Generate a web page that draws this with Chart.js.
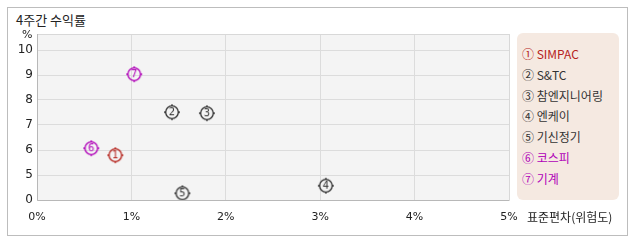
<!DOCTYPE html>
<html>
<head>
<meta charset="utf-8">
<script src="https://cdn.jsdelivr.net/npm/chart.js@4"></script>
<style>
  html, body { margin: 0; padding: 0; background: #fff; }
  body { width: 638px; height: 242px; position: relative; overflow: hidden;
         font-family: "Noto Sans CJK KR", "Noto Sans", sans-serif; }
  #frame { position: absolute; left: 7px; top: 7px; width: 619px; height: 227px; border: 1px solid #bdbdbd; }
  #title { position: absolute; left: 16px; top: 10px; font-size: 13px; color: #222; }
  #legend { position: absolute; left: 517px; top: 33px; width: 102px; height: 167px;
            background: #f5e9e1; border-radius: 6px; }
  #legend div { position: absolute; left: 5px; font-size: 12px; line-height: 14px; white-space: nowrap; }
  #c { position: absolute; left: 0; top: 0; }
</style>
</head>
<body>
<div id="frame"></div>
<div id="title">4주간 수익률</div>
<div id="legend"></div>
<canvas id="c" width="638" height="242"></canvas>
<script>
/* 4주간 수익률 vs 표준편차 */
const NAMEN = ['SIMPAC', 'S&TC', '참엔지니어링', '엔케이', '기신정기', '코스피', '기계'];
const MARKERS = ['①', '②', '③', '④', '⑤', '⑥', '⑦'];
const RISICO = [0.83, 1.43, 1.80, 3.06, 1.54, 0.575, 1.03];   // 표준편차 %
const RENDEMENT = [5.79, 7.51, 7.47, 2.86, 1.34, 6.07, 9.03]; // 수익률 %
const KLEUREN = ['#b5231c', '#333333', '#333333', '#333333', '#333333', '#b000b8', '#b000b8'];
const Y_TICKS = [0, 5, 6, 7, 8, 9, 10];
const X_TICKS = [0, 1, 2, 3, 4, 5];

/* gebroken y-as: 0..5 samengeperst tot één stap */
function yPos(v) { return v < 5 ? v / 5 : v - 4; }

function markerCanvas(txt, kleur) {
  const c = document.createElement('canvas');
  c.width = 20; c.height = 20;
  const g = c.getContext('2d');
  g.strokeStyle = kleur; g.lineWidth = 1.3;
  g.beginPath(); g.arc(10, 10, 6.3, 0, Math.PI * 2); g.stroke();
  g.beginPath();
  g.moveTo(10, 2); g.lineTo(10, 4); g.moveTo(10, 16); g.lineTo(10, 18);
  g.moveTo(2, 10); g.lineTo(4, 10); g.moveTo(16, 10); g.lineTo(18, 10);
  g.stroke();
  g.fillStyle = kleur;
  g.font = '10px "DejaVu Sans", sans-serif';
  g.textAlign = 'center'; g.textBaseline = 'middle';
  g.fillText(txt, 10, 10.5);
  return c;
}

/* legenda */
const leg = document.getElementById('legend');
NAMEN.forEach((n, i) => {
  const d = document.createElement('div');
  d.style.top = (14 + i * 20.8) + 'px';
  d.style.color = KLEUREN[i];
  d.textContent = MARKERS[i] + ' ' + n;
  leg.appendChild(d);
});

const extra = {
  id: 'extra',
  beforeDraw(chart) {
    const { ctx, chartArea: a } = chart;
    ctx.save();
    ctx.fillStyle = '#f4f4f4';
    ctx.fillRect(a.left, a.top, a.right - a.left, a.bottom - a.top);
    ctx.restore();
  },
  afterDraw(chart) {
    const { ctx, chartArea: a } = chart;
    ctx.save();
    ctx.strokeStyle = '#d8d8d8'; ctx.lineWidth = 1;
    ctx.beginPath();
    ctx.moveTo(a.left, a.top + 0.5); ctx.lineTo(a.right + 0.5, a.top + 0.5); ctx.lineTo(a.right + 0.5, a.bottom);
    ctx.stroke();
    ctx.strokeStyle = '#b8b8b8';
    ctx.beginPath();
    ctx.moveTo(a.left + 0.5, a.top); ctx.lineTo(a.left + 0.5, a.bottom + 0.5); ctx.lineTo(a.right + 0.5, a.bottom + 0.5);
    ctx.stroke();
    ctx.fillStyle = '#222';
    ctx.font = '11px "DejaVu Sans", sans-serif';
    ctx.textAlign = 'left'; ctx.textBaseline = 'middle';
    ctx.fillText('%', 22, 35);
    ctx.font = '12px "Noto Sans CJK KR", sans-serif';
    ctx.fillText('표준편차(위험도)', 527, 217);
    ctx.restore();
  }
};

new Chart(document.getElementById('c'), {
  type: 'scatter',
  data: {
    datasets: [{
      data: RISICO.map((x, i) => ({ x, y: yPos(RENDEMENT[i]) })),
      pointStyle: MARKERS.map((m, i) => markerCanvas(String(i + 1), KLEUREN[i])),
      pointRadius: 10
    }]
  },
  options: {
    responsive: false,
    animation: false,
    events: [],
    layout: { padding: { left: 0, right: 129, top: 34, bottom: 0 } },
    plugins: { legend: { display: false }, tooltip: { enabled: false } },
    scales: {
      x: {
        type: 'linear', min: 0, max: 5,
        afterBuildTicks: s => { s.ticks = X_TICKS.map(v => ({ value: v })); },
        afterFit: s => { s.height = 42; },
        border: { display: false },
        grid: { color: '#dcdcdc', drawTicks: false },
        ticks: { padding: 11, autoSkip: false, maxRotation: 0, color: '#222',
                 font: { family: '"DejaVu Sans", sans-serif', size: 11 },
                 callback: v => v + '%' }
      },
      y: {
        type: 'linear', min: 0, max: 6.64,
        afterBuildTicks: s => { s.ticks = Y_TICKS.map(v => ({ value: yPos(v) })); },
        afterFit: s => { s.width = 37; },
        border: { display: false },
        grid: { color: '#dcdcdc', drawTicks: false },
        ticks: { padding: 4, autoSkip: false, color: '#222',
                 font: { family: '"DejaVu Sans", sans-serif', size: 12 },
                 callback: (v, i) => String(Y_TICKS[i]) }
      }
    }
  },
  plugins: [extra]
});
</script>
</body>
</html>
